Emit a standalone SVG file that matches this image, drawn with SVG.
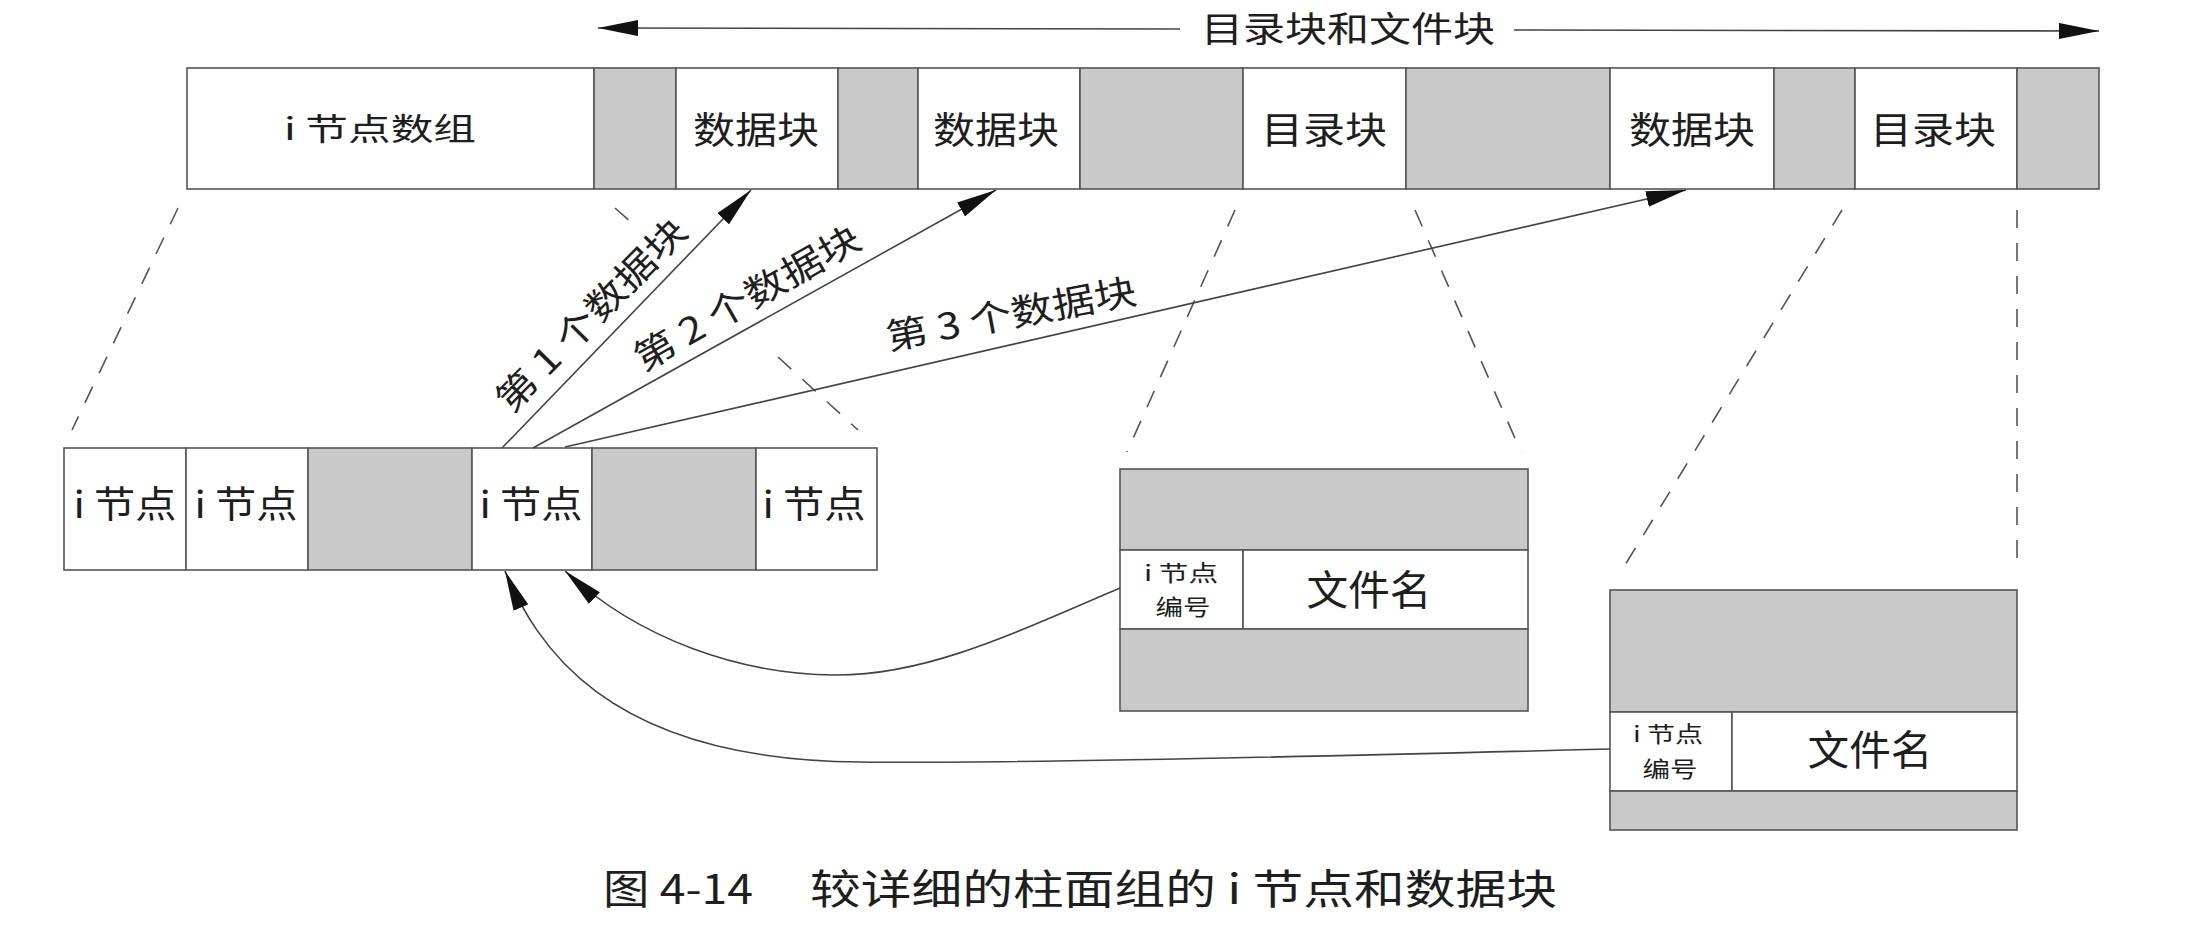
<svg xmlns="http://www.w3.org/2000/svg" width="2190" height="930" viewBox="0 0 2190 930">
  <style>
    .cell { fill: #ffffff; stroke: #555555; stroke-width: 1.6; }
    .shade { fill: #c9c9c9; stroke: #555555; stroke-width: 1.6; }
    .lbl { font-family: "Noto Sans CJK SC", "Noto Sans", sans-serif; fill: #1e1e1e; text-anchor: middle; }
    .cap { font-family: "Noto Sans CJK SC", "Noto Sans", sans-serif; fill: #1e1e1e; }
    .wire { fill: none; stroke: #444444; stroke-width: 1.6; }
    .dash { fill: none; stroke: #555555; stroke-width: 1.6; stroke-dasharray: 18 15; }
  </style>
  <defs>
    <marker id="head" viewBox="0 0 40 16" refX="40" refY="8" markerWidth="40" markerHeight="16" markerUnits="userSpaceOnUse" orient="auto-start-reverse">
      <path d="M0,0 L40,8 L0,16 Z" fill="#111111"/>
    </marker>
  </defs>
  <rect width="2190" height="930" fill="#ffffff"/>

  <!-- cylinder group strip -->
  <g id="strip">
    <rect class="cell" x="187" y="68" width="407" height="121"/>
    <rect class="shade" x="594" y="68" width="82" height="121"/>
    <rect class="cell" x="676" y="68" width="162" height="121"/>
    <rect class="shade" x="838" y="68" width="80" height="121"/>
    <rect class="cell" x="918" y="68" width="162" height="121"/>
    <rect class="shade" x="1080" y="68" width="163" height="121"/>
    <rect class="cell" x="1243" y="68" width="163" height="121"/>
    <rect class="shade" x="1406" y="68" width="204" height="121"/>
    <rect class="cell" x="1610" y="68" width="164" height="121"/>
    <rect class="shade" x="1774" y="68" width="81" height="121"/>
    <rect class="cell" x="1855" y="68" width="162" height="121"/>
    <rect class="shade" x="2017" y="68" width="82" height="121"/>
    <text class="lbl" x="380" y="140" font-size="31" textLength="192" lengthAdjust="spacingAndGlyphs">i 节点数组</text>
    <text class="lbl" x="756" y="144" font-size="37" textLength="126" lengthAdjust="spacingAndGlyphs">数据块</text>
    <text class="lbl" x="996" y="144" font-size="37" textLength="126" lengthAdjust="spacingAndGlyphs">数据块</text>
    <text class="lbl" x="1324" y="144" font-size="37" textLength="126" lengthAdjust="spacingAndGlyphs">目录块</text>
    <text class="lbl" x="1692" y="144" font-size="37" textLength="126" lengthAdjust="spacingAndGlyphs">数据块</text>
    <text class="lbl" x="1933" y="144" font-size="37" textLength="126" lengthAdjust="spacingAndGlyphs">目录块</text>
  </g>

  <!-- span label over the directory and file blocks -->
  <g id="span-label">
    <text class="lbl" x="1348" y="42" font-size="35" textLength="294" lengthAdjust="spacingAndGlyphs">目录块和文件块</text>
  </g>

  <!-- inode array detail -->
  <g id="inode-array">
    <rect class="cell" x="64" y="448" width="122" height="122"/>
    <rect class="cell" x="186" y="448" width="122" height="122"/>
    <rect class="shade" x="308" y="448" width="164" height="122"/>
    <rect class="cell" x="472" y="448" width="120" height="122"/>
    <rect class="shade" x="592" y="448" width="164" height="122"/>
    <rect class="cell" x="756" y="448" width="121" height="122"/>
    <text class="lbl" x="125" y="518" font-size="37" textLength="103" lengthAdjust="spacingAndGlyphs">i 节点</text>
    <text class="lbl" x="246" y="518" font-size="37" textLength="103" lengthAdjust="spacingAndGlyphs">i 节点</text>
    <text class="lbl" x="531" y="518" font-size="37" textLength="103" lengthAdjust="spacingAndGlyphs">i 节点</text>
    <text class="lbl" x="814" y="518" font-size="37" textLength="103" lengthAdjust="spacingAndGlyphs">i 节点</text>
  </g>

  <!-- first directory block detail -->
  <g id="dir-block-1">
    <rect class="shade" x="1120" y="469" width="408" height="81"/>
    <rect class="cell" x="1120" y="550" width="123" height="79"/>
    <rect class="cell" x="1243" y="550" width="285" height="79"/>
    <rect class="shade" x="1120" y="629" width="408" height="82"/>
    <text class="lbl" x="1181" y="581" font-size="22" textLength="74" lengthAdjust="spacingAndGlyphs">i 节点</text>
    <text class="lbl" x="1183" y="615" font-size="22" textLength="55" lengthAdjust="spacingAndGlyphs">编号</text>
    <text class="lbl" x="1369" y="605" font-size="41" textLength="125" lengthAdjust="spacingAndGlyphs">文件名</text>
  </g>

  <!-- second directory block detail -->
  <g id="dir-block-2">
    <rect class="shade" x="1610" y="590" width="407" height="122"/>
    <rect class="cell" x="1610" y="712" width="122" height="79"/>
    <rect class="cell" x="1732" y="712" width="285" height="79"/>
    <rect class="shade" x="1610" y="791" width="407" height="39"/>
    <text class="lbl" x="1668" y="742" font-size="22" textLength="70" lengthAdjust="spacingAndGlyphs">i 节点</text>
    <text class="lbl" x="1670" y="777" font-size="22" textLength="55" lengthAdjust="spacingAndGlyphs">编号</text>
    <text class="lbl" x="1870" y="765" font-size="41" textLength="125" lengthAdjust="spacingAndGlyphs">文件名</text>
  </g>

  <!-- connectors -->
  <g id="connectors">
    <!-- extent arrows -->
    <line class="wire" x1="598" y1="28" x2="1180" y2="29" marker-start="url(#head)"/>
    <line class="wire" x1="1514" y1="30" x2="2099" y2="31" marker-end="url(#head)"/>

    <!-- zoom guides -->
    <line class="dash" x1="178" y1="208" x2="72" y2="430"/>
    <line class="dash" x1="615" y1="208" x2="633" y2="224"/>
    <line class="dash" x1="778" y1="357" x2="858" y2="430"/>
    <line class="dash" x1="1235" y1="210" x2="1127" y2="452"/>
    <line class="dash" x1="1415" y1="210" x2="1521" y2="452"/>
    <line class="dash" x1="1842" y1="210" x2="1622" y2="570"/>
    <line class="dash" x1="2017" y1="210" x2="2017" y2="570"/>

    <!-- block pointers from the inode -->
    <line class="wire" x1="502" y1="448" x2="751" y2="190" marker-end="url(#head)"/>
    <line class="wire" x1="533" y1="448" x2="996" y2="190" marker-end="url(#head)"/>
    <line class="wire" x1="565" y1="447" x2="1686" y2="190" marker-end="url(#head)"/>

    <!-- directory entries back to the inode -->
    <path class="wire" d="M1120,588 C1000,640 920,676 834,675 C740,674 640,640 565,571" marker-end="url(#head)"/>
    <path class="wire" d="M1610,749 C1300,757 1000,764 860,762 C600,760 535,640 505,571" marker-end="url(#head)"/>
  </g>

  <!-- pointer labels -->
  <g id="pointer-labels">
    <text class="lbl" font-size="36" textLength="254" lengthAdjust="spacingAndGlyphs" transform="translate(591,315) rotate(-45.5)" x="0" y="13">第 1 个数据块</text>
    <text class="lbl" font-size="36" textLength="254" lengthAdjust="spacingAndGlyphs" transform="translate(747,298) rotate(-29.7)" x="0" y="13">第 2 个数据块</text>
    <text class="lbl" font-size="36" textLength="254" lengthAdjust="spacingAndGlyphs" transform="translate(1011,314) rotate(-10.7)" x="0" y="13">第 3 个数据块</text>
  </g>

  <!-- figure caption -->
  <g id="caption">
    <text class="cap" x="603" y="904" font-size="41" textLength="150" lengthAdjust="spacingAndGlyphs">图 4-14</text>
    <text class="cap" x="810" y="904" font-size="41" textLength="747" lengthAdjust="spacingAndGlyphs">较详细的柱面组的 i 节点和数据块</text>
  </g>
</svg>
